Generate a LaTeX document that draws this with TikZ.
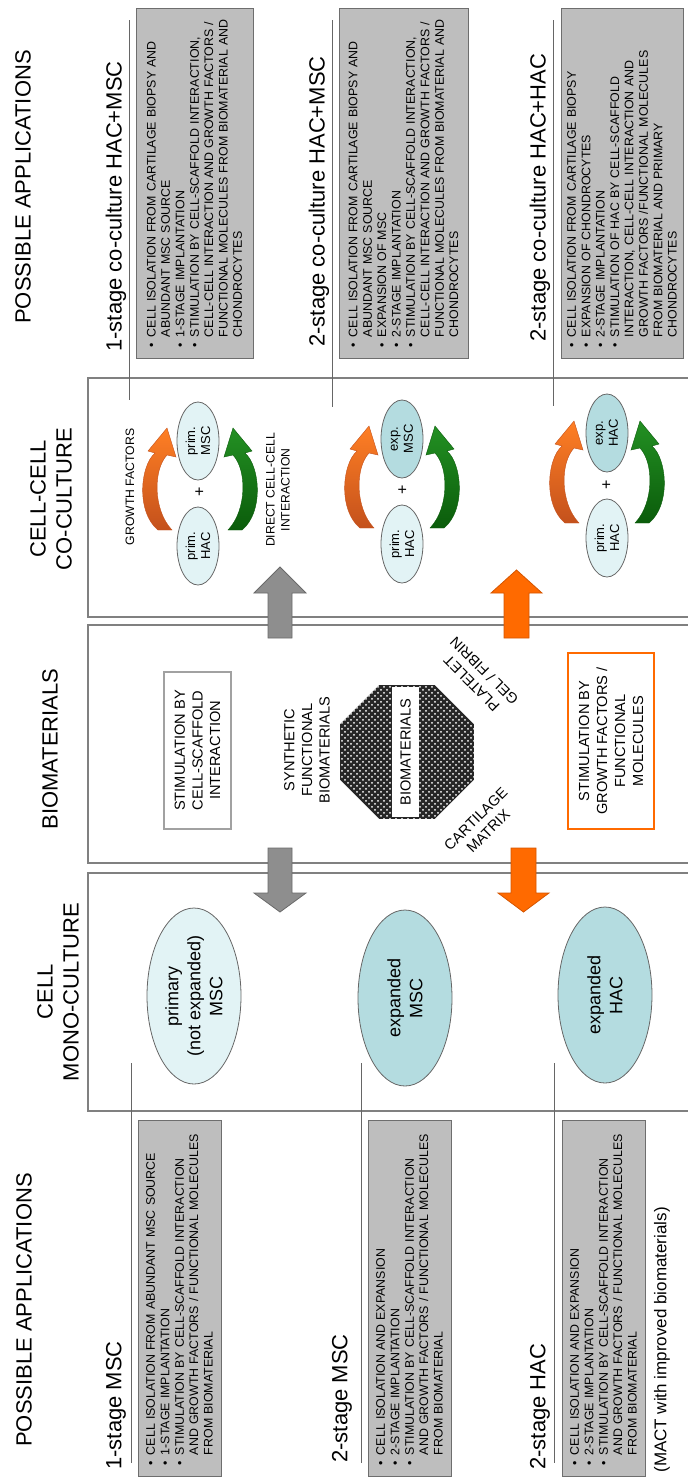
\documentclass[tikz,border=0pt]{standalone}
\usepackage{fontspec}
\setmainfont{Liberation Sans}
\usetikzlibrary{shapes.geometric,patterns}

\definecolor{boxgray}{HTML}{BEBEBE}
\definecolor{boxedge}{HTML}{6E6E6E}
\definecolor{framegray}{HTML}{808080}
\definecolor{cellpale}{HTML}{E2F3F5}
\definecolor{celldeep}{HTML}{B4DCE0}
\definecolor{arrgray}{HTML}{8E8E8E}
\definecolor{arrgrayedge}{HTML}{6A6A6A}
\definecolor{arrorange}{HTML}{FF6A00}
\definecolor{arrorangeedge}{HTML}{D45500}
\definecolor{gftop}{HTML}{FF7F24}
\definecolor{gfbot}{HTML}{C4511C}
\definecolor{cctop}{HTML}{239023}
\definecolor{ccbot}{HTML}{0B5C0B}

\newcommand{\fsz}[2]{\fontsize{#1}{#2}\selectfont}
\newcommand{\bul}{\makebox[0.8em][l]{\textbullet}}
\newcommand{\ind}{\hspace*{0.8em}}
% curved block arrow between two cells: centre, mirror (1 / -1), colour prefix
\newcommand{\cocarrow}[3]{%
  \shade[shift={#1},xscale=#2,top color=#3top,bottom color=#3bot,draw=#3bot,line width=0.2pt]
    (-42,38) .. controls (-64,20) and (-60,-26) .. (-45,-39)
    -- (-52,-41) -- (-33,-64) -- (-24,-35) -- (-33,-37)
    .. controls (-47,-22) and (-47,18) .. (-28,38) -- cycle;
}

\tikzset{
  vtext/.style={rotate=90, inner sep=0pt, align=center},
  heading/.style={vtext, font=\fsz{11}{13}},
  apptitle/.style={rotate=90, inner sep=0pt, anchor=west, font=\fsz{11}{13}},
  appbox/.style 2 args={rotate=90, draw=boxedge, fill=boxgray, line width=0.5pt,
      inner xsep=5.5pt, inner ysep=0pt, text width=#1, minimum height=#2,
      align=left, font=\fsz{6.2}{7.2}},
  cellframe/.style={draw=framegray, line width=0.6pt},
  titlerule/.style={draw=black!60, line width=0.5pt},
  monocell/.style={ellipse, rotate=90, draw=black!60, line width=0.4pt, inner sep=0pt,
      minimum width=88pt, minimum height=47pt, align=center, font=\fsz{9}{11}},
  paircell/.style={ellipse, rotate=90, draw=black!60, line width=0.4pt, inner sep=0pt,
      minimum width=39pt, minimum height=21pt, align=center, font=\fsz{6.5}{7.5}},
  smalllabel/.style={vtext, font=\fsz{6.1}{7.5}},
  biolabel/.style={vtext, font=\fsz{7.3}{8.8}},
  stimbox/.style={rotate=90, line width=1.2pt, inner sep=0pt, align=center, font=\fsz{7.3}{8.8}},
  blockgray/.style={fill=arrgray, draw=arrgrayedge, line width=0.4pt},
  blockorange/.style={fill=arrorange, draw=arrorangeedge, line width=0.4pt}
}

\begin{document}
\begin{tikzpicture}[x=0.5pt,y=-0.5pt]
\useasboundingbox (0,0) rectangle (688,1479);

% the three culture frames
\draw[cellframe] (688,378) -- (88,378) -- (88,617) -- (688,617);
\draw[cellframe] (688,625) -- (88,625) -- (88,863) -- (688,863);
\draw[cellframe] (688,873) -- (88,873) -- (88,1111) -- (688,1111);

\node[heading] (cochead) at (51,499) {CELL-CELL\\CO-CULTURE};
\node[heading] (biohead) at (50,749) {BIOMATERIALS};
\node[heading] (monohead) at (58,992) {CELL\\MONO-CULTURE};

% title rules
\foreach \x/\y in {129/400,332/407,553/406}
  \draw[titlerule] (\x,20) -- (\x,\y);
\foreach \x in {131,361,554}
  \draw[titlerule] (\x,1063) -- (\x,1463);

% applications of the co-culture
\node[heading] (possA) at (23,187) {POSSIBLE APPLICATIONS};
\node[apptitle] (coA) at (116,352) {1-stage co-culture HAC+MSC};
\node[apptitle] (coB) at (319,347) {2-stage co-culture HAC+MSC};
\node[apptitle] (coC) at (540,342) {2-stage co-culture HAC+HAC};

\node[appbox={164pt}{58.5pt}] (coAbox) at (194.5,183) {%
\bul CELL ISOLATION FROM CARTILAGE BIOPSY AND\\
\ind ABUNDANT MSC SOURCE\\
\bul 1-STAGE IMPLANTATION\\
\bul STIMULATION BY CELL-SCAFFOLD INTERACTION,\\
\ind CELL-CELL INTERACTION AND GROWTH FACTORS /\\
\ind FUNCTIONAL MOLECULES FROM BIOMATERIAL AND\\
\ind CHONDROCYTES};
\node[appbox={164pt}{64.5pt}] (coBbox) at (403.5,183) {%
\bul CELL ISOLATION FROM CARTILAGE BIOPSY AND\\
\ind ABUNDANT MSC SOURCE\\
\bul EXPANSION OF MSC\\
\bul 2-STAGE IMPLANTATION\\
\bul STIMULATION BY CELL-SCAFFOLD INTERACTION,\\
\ind CELL-CELL INTERACTION AND GROWTH FACTORS /\\
\ind FUNCTIONAL MOLECULES FROM BIOMATERIAL AND\\
\ind CHONDROCYTES};
\node[appbox={164pt}{61pt}] (coCbox) at (622,183) {%
\bul CELL ISOLATION FROM CARTILAGE BIOPSY\\
\bul EXPANSION OF CHONDROCYTES\\
\bul 2-STAGE IMPLANTATION\\
\bul STIMULATION OF HAC BY CELL-SCAFFOLD\\
\ind INTERACTION, CELL-CELL INTERACTION AND\\
\ind GROWTH FACTORS /FUNCTIONAL MOLECULES\\
\ind FROM BIOMATERIAL AND PRIMARY\\
\ind CHONDROCYTES};

% applications of the mono-culture
\node[heading] (possB) at (24,1310) {POSSIBLE APPLICATIONS};
\node[apptitle] (monoA) at (116,1470) {1-stage MSC};
\node[apptitle] (monoB) at (342,1463) {2-stage MSC};
\node[apptitle] (monoC) at (540,1470) {2-stage HAC};
\node[apptitle, font=\fsz{8.5}{10}] (mact) at (662,1473) {(MACT with improved biomaterials)};

\node[appbox={167pt}{41.5pt}] (monoAbox) at (179.5,1298) {%
\bul CELL ISOLATION FROM ABUNDANT MSC SOURCE\\
\bul 1-STAGE IMPLANTATION\\
\bul STIMULATION BY CELL-SCAFFOLD INTERACTION\\
\ind AND GROWTH FACTORS / FUNCTIONAL MOLECULES\\
\ind FROM BIOMATERIAL};
\node[appbox={167pt}{41.5pt}] (monoBbox) at (409.5,1298) {%
\bul CELL ISOLATION AND EXPANSION\\
\bul 2-STAGE IMPLANTATION\\
\bul STIMULATION BY CELL-SCAFFOLD INTERACTION\\
\ind AND GROWTH FACTORS / FUNCTIONAL MOLECULES\\
\ind FROM BIOMATERIAL};
\node[appbox={167pt}{41.5pt}] (monoCbox) at (603.5,1298) {%
\bul CELL ISOLATION AND EXPANSION\\
\bul 2-STAGE IMPLANTATION\\
\bul STIMULATION BY CELL-SCAFFOLD INTERACTION\\
\ind AND GROWTH FACTORS / FUNCTIONAL MOLECULES\\
\ind FROM BIOMATERIAL};

% block arrows between the frames
\draw[blockgray] (268,638) -- (268,593) -- (254,593) -- (280,567) -- (306,593) -- (292,593) -- (292,638) -- cycle;
\draw[blockorange] (504,638) -- (504,593) -- (491,593) -- (516.5,570) -- (542,593) -- (529,593) -- (529,638) -- cycle;
\draw[blockgray] (268,848) -- (268,893) -- (254,893) -- (280,912) -- (306,893) -- (292,893) -- (292,848) -- cycle;
\draw[blockorange] (511,848) -- (511,893) -- (498,893) -- (523.5,912) -- (549,893) -- (536,893) -- (536,848) -- cycle;

% co-culture pairs
\cocarrow{(200,492)}{1}{gf}
\cocarrow{(200,492)}{-1}{cc}
\cocarrow{(402,490)}{1}{gf}
\cocarrow{(402,490)}{-1}{cc}
\cocarrow{(607,485)}{1}{gf}
\cocarrow{(607,485)}{-1}{cc}

\node[paircell, fill=cellpale] (hacA) at (198,546) {prim.\\HAC};
\node[paircell, fill=cellpale] (mscA) at (198,441) {prim.\\MSC};
\node[paircell, fill=cellpale] (hacB) at (402,544) {prim.\\HAC};
\node[paircell, fill=celldeep] (mscB) at (402,439) {exp.\\MSC};
\node[paircell, fill=cellpale] (hacC) at (607,538) {prim.\\HAC};
\node[paircell, fill=celldeep] (hacD) at (607,433) {exp.\\HAC};
\node[vtext, font=\fsz{8}{8}] (plusA) at (200,492) {+};
\node[vtext, font=\fsz{8}{8}] (plusB) at (403,490) {+};
\node[vtext, font=\fsz{8}{8}] (plusC) at (607,485) {+};

\node[smalllabel] (gf) at (130,487) {GROWTH FACTORS};
\node[smalllabel] (direct) at (278,490) {DIRECT CELL-CELL\\INTERACTION};

% biomaterials
\node[stimbox, draw=black!37, minimum width=78.5pt, minimum height=33.5pt] (scaffold) at (197.5,750.5) {STIMULATION BY\\CELL-SCAFFOLD\\INTERACTION};
\node[stimbox, draw=arrorange, minimum width=88pt, minimum height=43pt, font=\fsz{7.3}{9}] (growth) at (611,741) {STIMULATION BY\\GROWTH FACTORS /\\FUNCTIONAL\\MOLECULES};
\node[biolabel] (synth) at (307,750) {SYNTHETIC\\FUNCTIONAL\\BIOMATERIALS};

\fill[black!85, postaction={pattern=crosshatch dots, pattern color=white}]
  (407,752) +(22.5:72.5) \foreach \a in {67.5,112.5,...,337.5} { -- +(\a:72.5) } -- cycle;
\fill[white] (392,687) rectangle (419,817);
\node[biolabel] (biocore) at (405.5,752) {BIOMATERIALS};

\node[align=center, inner sep=0pt, rotate=45, font=\fsz{7.3}{8.8}] (cartilage) at (482,825) {CARTILAGE\\MATRIX};
\node[align=center, inner sep=0pt, rotate=135, font=\fsz{7.3}{8.8}] (platelet) at (478,677) {PLATELET\\GEL / FIBRIN};

% mono-culture cells
\node[monocell, fill=cellpale] (primmsc) at (194,996) {primary\\(not expanded)\\MSC};
\node[monocell, fill=celldeep] (expmsc) at (405,998) {expanded\\MSC};
\node[monocell, fill=celldeep] (exphac) at (605,995) {expanded\\HAC};
\end{tikzpicture}
\end{document}
